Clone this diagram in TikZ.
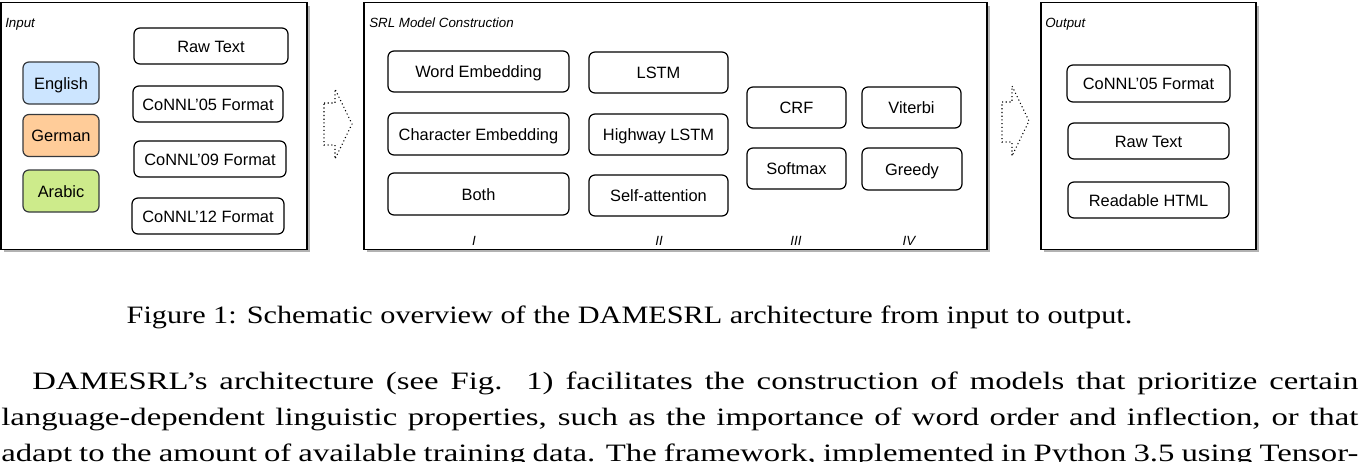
\documentclass[tikz,border=0pt]{standalone}
\usepackage{fontspec}
\setmainfont{Liberation Serif}
\setsansfont{Liberation Sans}
\newfontfamily\capfont[FakeStretch=1.21]{Liberation Serif}
\newfontfamily\parafont[FakeStretch=1.31]{Liberation Serif}
\usetikzlibrary{shadows}
\definecolor{engfill}{HTML}{CCE5FF}
\definecolor{gerfill}{HTML}{FFCC99}
\definecolor{arafill}{HTML}{CDEB8B}
\definecolor{boxline}{HTML}{36393D}

\begin{document}
\begin{tikzpicture}[x=0.75pt,y=-0.75pt]
	\tikzstyle{Frame} = [draw, line width=1.1pt, fill=white, inner sep=0pt, minimum height=185pt, drop shadow={shadow xshift=2.25pt, shadow yshift=-2.25pt, fill=black!30, opacity=1}]
	\tikzstyle{Block} = [draw, rounded corners=4.5pt, line width=0.9pt, inner sep=0pt, text height=9.5pt, text depth=0.5pt, font=\sffamily\fontsize{12.3}{14}\selectfont]
	\tikzstyle{Lang} = [Block, draw=boxline, minimum width=57pt, minimum height=31.5pt]
	\tikzstyle{Title} = [anchor=base west, inner sep=0pt, font=\sffamily\itshape\fontsize{10}{12}\selectfont]
	\tikzstyle{Stage} = [anchor=base, inner sep=0pt, font=\sffamily\itshape\fontsize{10}{12}\selectfont]
	\tikzstyle{Flow} = [dotted, line width=0.8pt]
	\tikzstyle{Para} = [anchor=base west, inner sep=0pt, font=\parafont\fontsize{18.75}{22}\selectfont]
	\useasboundingbox (0,0) rectangle (1360,461);

	% frames
	\node (input) at (154,126) [Frame, minimum width=229.5pt] {};
	\node (srl) at (675.5,126) [Frame, minimum width=467.25pt] {};
	\node (output) at (1148.5,126) [Frame, minimum width=161.25pt] {};
	\node (inputT) at (5,27) [Title] {Input};
	\node (srlT) at (369,27) [Title] {SRL Model Construction};
	\node (outputT) at (1045,27) [Title] {Output};

	% input
	\node (english) at (61,83) [Lang, fill=engfill] {English};
	\node (german) at (61,135.5) [Lang, fill=gerfill] {German};
	\node (arabic) at (61,191) [Lang, fill=arafill] {Arabic};
	\node (rawin) at (211,46) [Block, minimum width=115.5pt, minimum height=27pt] {Raw Text};
	\node (c05in) at (208,104) [Block, minimum width=112.5pt, minimum height=27pt] {CoNNL'05 Format};
	\node (c09in) at (210,159) [Block, minimum width=114pt, minimum height=27pt] {CoNNL'09 Format};
	\node (c12in) at (208,216) [Block, minimum width=114pt, minimum height=27pt] {CoNNL'12 Format};

	% model construction
	\node (word) at (478.5,71.5) [Block, minimum width=135.75pt, minimum height=30.75pt] {Word Embedding};
	\node (char) at (478.5,134) [Block, minimum width=135.75pt, minimum height=31.5pt] {Character Embedding};
	\node (both) at (478.5,194) [Block, minimum width=135.75pt, minimum height=31.5pt] {Both};
	\node (lstm) at (658.5,72.5) [Block, minimum width=104.25pt, minimum height=30.75pt] {LSTM};
	\node (hwlstm) at (658.5,134.5) [Block, minimum width=104.25pt, minimum height=30.75pt] {Highway LSTM};
	\node (selfatt) at (658.5,195.5) [Block, minimum width=104.25pt, minimum height=30.75pt] {Self-attention};
	\node (crf) at (796.5,107.5) [Block, minimum width=74.25pt, minimum height=30.75pt] {CRF};
	\node (softmax) at (796.5,168.5) [Block, minimum width=74.25pt, minimum height=30.75pt] {Softmax};
	\node (viterbi) at (911.5,107.5) [Block, minimum width=74.25pt, minimum height=30.75pt] {Viterbi};
	\node (greedy) at (912,169) [Block, minimum width=75pt, minimum height=31.5pt] {Greedy};
	\node (st1) at (474,245) [Stage] {I};
	\node (st2) at (659,245) [Stage] {II};
	\node (st3) at (796,245) [Stage] {III};
	\node (st4) at (909,245) [Stage] {IV};

	% output
	\node (c05out) at (1148.5,83.5) [Block, minimum width=122.25pt, minimum height=27.75pt] {CoNNL'05 Format};
	\node (rawout) at (1148.5,141) [Block, minimum width=120.75pt, minimum height=27pt] {Raw Text};
	\node (html) at (1148.5,200) [Block, minimum width=120.75pt, minimum height=27pt] {Readable HTML};

	% block arrows
	\draw [Flow] (324,103) -- (335,103) -- (335,89) -- (352,124) -- (335,159) -- (335,145) -- (324,145) -- cycle;
	\draw [Flow] (1002,102) -- (1012,102) -- (1012,86) -- (1029,121) -- (1012,156) -- (1012,142) -- (1002,142) -- cycle;

	% caption and text
	\node (caption) at (629.5,323) [Para, anchor=base, font=\capfont\fontsize{18.75}{22}\selectfont] {Figure 1: Schematic overview of the DAMESRL architecture from input to output.};
	\node (line1) at (32,389) [Para] {\makebox[994.5pt][s]{DAMESRL’s architecture (see Fig.\ \ 1) facilitates the construction of models that prioritize certain}};
	\node (line2) at (1,425) [Para] {\makebox[1017.75pt][s]{language-dependent linguistic properties, such as the importance of word order and inflection, or that}};
	\node (line3) at (1,461.5) [Para] {\makebox[1017.75pt][s]{adapt to the amount of available training data. The framework, implemented in Python 3.5 using Tensor-}};
\end{tikzpicture}
\end{document}
